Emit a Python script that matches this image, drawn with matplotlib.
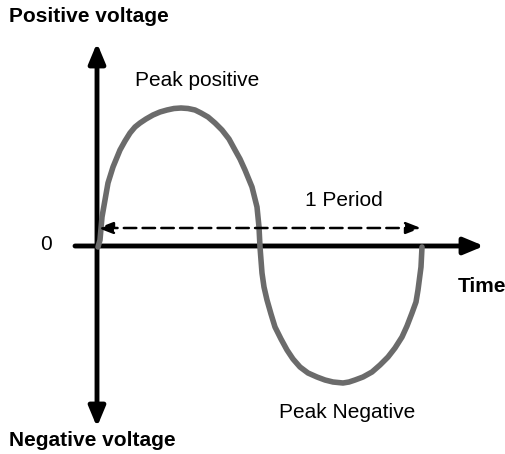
"""
sine wave diagram: one period of an AC voltage
"""

import matplotlib as mpl
mpl.use('Agg')
from matplotlib import pyplot as plt

# curve (pixel positions, y grows downward)
wave_x = [98, 100, 102, 105, 108, 113, 120, 125, 130, 135, 140, 146, 153,
          160, 167, 174, 181, 188, 195, 201, 208, 215, 222, 229, 235, 240,
          245, 252, 257, 259, 260,
          262, 264, 267, 271, 275, 281, 287, 293, 300, 308, 317, 325, 333,
          343, 349, 355, 363, 372, 380, 388, 395, 402, 407, 412, 416, 418,
          421, 422]
wave_y = [247, 240, 217, 200, 183, 167, 150, 141, 133, 127, 123, 119, 115,
          112, 110, 108.5, 108, 108.5, 110, 113, 117, 123, 130, 139, 150, 159,
          170, 187, 207, 227, 247,
          273, 287, 300, 314, 327, 339, 350, 359, 367, 373, 377, 380, 382,
          383, 382, 380, 377, 372, 365, 357, 348, 337, 326, 313, 302, 290,
          267, 247]

origin = (97, 246)
period_span = (98, 421)
period_y = 228

labels = {
    'Positive voltage': (9, 17, 'bold'),
    'Negative voltage': (9, 440, 'bold'),
    'Time': (458, 286, 'bold'),
    'Peak positive': (135, 80, 'normal'),
    'Peak Negative': (279, 413, 'normal'),
    '1 Period': (305, 200, 'normal'),
    '0': (40, 244, 'normal'),
}


def setup_figure():
    plt.rcParams.update({'font.family': ['Liberation Sans', 'DejaVu Sans']})
    fig = plt.figure(figsize=(5.06, 4.54), dpi=100)
    ax = fig.add_axes([0, 0, 1, 1])
    ax.set_xlim(0, 506)
    ax.set_ylim(454, 0)
    ax.axis('off')

    # axes arrows
    head = '-|>,head_length=1.2,head_width=0.5'
    ax.annotate('', xy=(origin[0], 43), xytext=(origin[0], origin[1]),
                arrowprops=dict(arrowstyle=head, lw=3.5, color='black',
                                shrinkA=0, shrinkB=0))
    ax.annotate('', xy=(origin[0], 427), xytext=(origin[0], origin[1]),
                arrowprops=dict(arrowstyle=head, lw=3.5, color='black',
                                shrinkA=0, shrinkB=0))
    ax.annotate('', xy=(484, origin[1]), xytext=(75, origin[1]),
                arrowprops=dict(arrowstyle=head, lw=3.5, color='black',
                                shrinkA=0, shrinkB=0))

    # the wave
    ax.plot(wave_x, wave_y, color='#6b6b6b', lw=4.0, solid_joinstyle='round',
            solid_capstyle='round', zorder=3)

    # one period marker
    ax.annotate('', xy=(period_span[0], period_y), xytext=(period_span[1], period_y),
                arrowprops=dict(arrowstyle='<|-|>,head_length=0.9,head_width=0.35',
                                lw=1.8, ls=(0, (5, 2.5)), color='black',
                                shrinkA=0, shrinkB=0))

    for txt, (x, y, weight) in labels.items():
        ax.text(x, y, txt, fontsize=15, fontweight=weight, va='center', ha='left')

    fig.savefig('out.png', dpi=100)


if __name__ == "__main__":
    setup_figure()
